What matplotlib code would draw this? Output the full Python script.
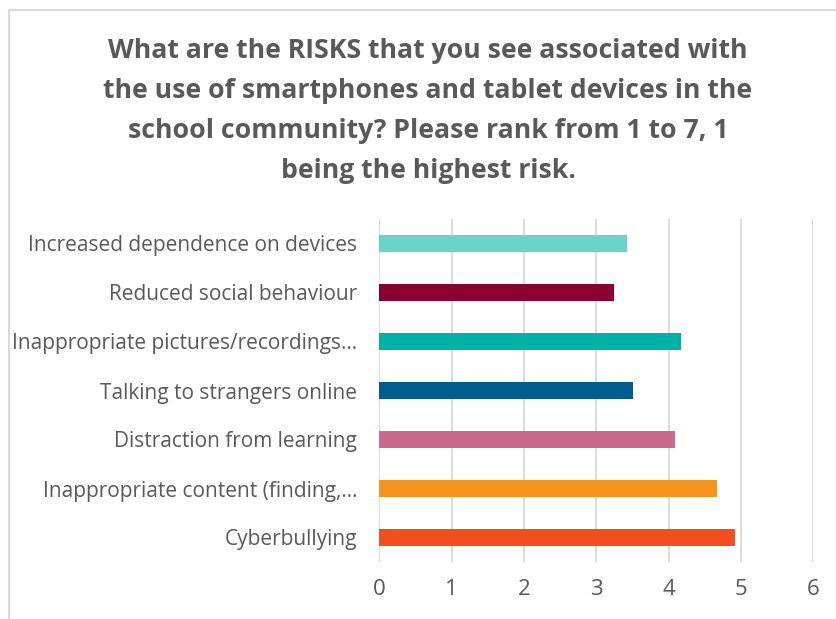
import matplotlib
matplotlib.use("Agg")
import matplotlib.pyplot as plt
from matplotlib.patches import Rectangle

# Survey data: mean rank per risk (top to bottom as drawn)
categories = [
    "Increased dependence on devices",
    "Reduced social behaviour",
    "Inappropriate pictures/recordings…",
    "Talking to strangers online",
    "Distraction from learning",
    "Inappropriate content (finding,…",
    "Cyberbullying",
]
values = [3.42, 3.25, 4.17, 3.51, 4.09, 4.67, 4.92]
colors = ["#6AD2C8", "#8A0030", "#00B2A4", "#005B8F",
          "#CC6890", "#F7941D", "#F24E22"]
x_ticks = [0, 1, 2, 3, 4, 5, 6]

title_lines = [
    "What are the RISKS that you see associated with",
    "the use of smartphones and tablet devices in the",
    "school community? Please rank from 1 to 7, 1",
    "being the highest risk.",
]

FONT = "Open Sans"
TEXT = "#595959"
GRID = "#D9D9D9"

W, H = 837, 619
fig = plt.figure(figsize=(W / 100, H / 100), dpi=100)

# chart area border (runs off the right and bottom edges)
fig.patches.append(Rectangle((9 / W, -0.1), 1.2, 1 - 10 / H + 0.1,
                             transform=fig.transFigure, fill=False,
                             edgecolor=GRID, linewidth=1.5))

ax = fig.add_axes([379.3 / W, 1 - 562 / H, (813.3 - 379.3) / W, (562 - 219) / H])

ypos = list(range(len(categories)))[::-1]
ax.barh(ypos, values, height=0.36, color=colors, zorder=3)

ax.set_xlim(0, 6)
ax.set_ylim(-0.5, len(categories) - 0.5)
ax.set_xticks(x_ticks)
ax.set_xticklabels([str(t) for t in x_ticks], fontfamily=FONT, fontsize=16, color=TEXT)
ax.set_yticks(ypos)
ax.set_yticklabels(categories, fontfamily=FONT, fontsize=15, color=TEXT)
ax.tick_params(axis="both", length=0)
ax.tick_params(axis="y", pad=16)
ax.tick_params(axis="x", pad=12)

ax.grid(axis="x", color=GRID, linewidth=1.3, zorder=0)
for s in ax.spines.values():
    s.set_visible(False)

for i, line in enumerate(title_lines):
    fig.text(428 / W, 1 - (51 + 40 * i) / H, line, ha="center", va="center",
             fontfamily=FONT, fontweight="bold", fontsize=19.2, color=TEXT)

fig.savefig("out.png", dpi=100)
